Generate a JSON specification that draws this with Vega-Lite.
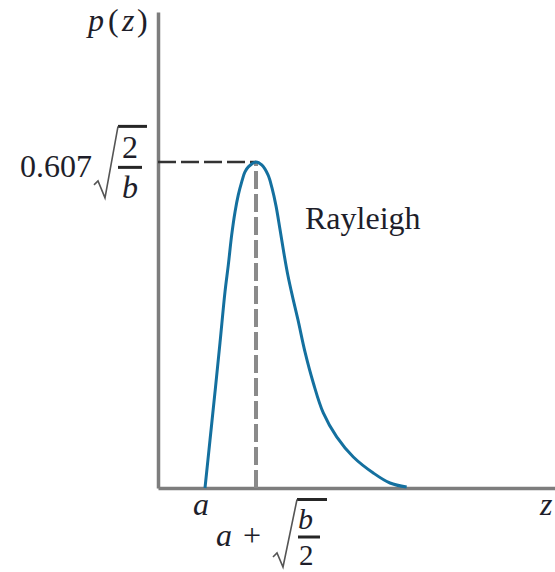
{
  "$schema": "https://vega.github.io/schema/vega-lite/v6.json",
  "width": 397,
  "height": 476,
  "autosize": "none",
  "padding": {"left": 158, "top": 12, "right": 0, "bottom": 84},
  "background": "white",
  "config": {
    "view": {"stroke": null},
    "axis": {
      "domainColor": "#7d7d7d",
      "domainWidth": 3.5,
      "ticks": false,
      "labels": false,
      "grid": false,
      "title": null
    },
    "text": {"font": "Liberation Serif", "fontSize": 32, "color": "#1e1e2a", "align": "left", "baseline": "alphabetic"}
  },
  "datasets": {
    "rayleigh": [
      {"z": 0.947, "p": 0.0},
      {"z": 1.048, "p": 0.0894},
      {"z": 1.149, "p": 0.1788},
      {"z": 1.249, "p": 0.27},
      {"z": 1.35, "p": 0.365},
      {"z": 1.417, "p": 0.4152},
      {"z": 1.485, "p": 0.4711},
      {"z": 1.552, "p": 0.5139},
      {"z": 1.618, "p": 0.5456},
      {"z": 1.687, "p": 0.5698},
      {"z": 1.753, "p": 0.5884},
      {"z": 1.82, "p": 0.5977},
      {"z": 1.975, "p": 0.607},
      {"z": 2.09, "p": 0.6014},
      {"z": 2.217, "p": 0.5828},
      {"z": 2.297, "p": 0.5586},
      {"z": 2.378, "p": 0.5251},
      {"z": 2.458, "p": 0.4815},
      {"z": 2.539, "p": 0.436},
      {"z": 2.62, "p": 0.3945},
      {"z": 2.72, "p": 0.3525},
      {"z": 2.821, "p": 0.3128},
      {"z": 2.962, "p": 0.2533},
      {"z": 3.13, "p": 0.1955},
      {"z": 3.331, "p": 0.1397},
      {"z": 3.601, "p": 0.095},
      {"z": 3.936, "p": 0.0577},
      {"z": 4.339, "p": 0.0279},
      {"z": 4.675, "p": 0.0093},
      {"z": 5.011, "p": 0.0019}
    ],
    "peak": [{"z": 1.975, "p": 0.607, "z0": 0, "p0": 0}],
    "italicText": [
      {"z": -1.411, "p": 0.851, "text": "p"},
      {"z": -0.725, "p": 0.851, "text": "z"},
      {"z": -0.725, "p": 0.54, "text": "b"},
      {"z": 0.705, "p": -0.0503, "text": "a"},
      {"z": 1.169, "p": -0.108, "text": "a"},
      {"z": 7.7, "p": -0.0503, "text": "z"}
    ],
    "fractionItalic": [
      {"z": 2.821, "p": -0.0763, "text": "b"}
    ],
    "fractionRoman": [
      {"z": 2.841, "p": -0.1434, "text": "2"}
    ],
    "romanText": [
      {"z": -1.008, "p": 0.851, "text": "("},
      {"z": -0.423, "p": 0.851, "text": ")"},
      {"z": -2.781, "p": 0.579, "text": "0.607"},
      {"z": -0.725, "p": 0.6145, "text": "2"},
      {"z": 1.713, "p": -0.108, "text": "+"},
      {"z": 2.962, "p": 0.4823, "text": "Rayleigh"}
    ],
    "bars": [
      {"z": -0.806, "z2": -0.322, "p": 0.5968},
      {"z": -0.806, "z2": -0.222, "p": 0.6731},
      {"z": 2.821, "z2": 3.264, "p": -0.0912},
      {"z": 2.801, "z2": 3.406, "p": -0.0214}
    ],
    "radicals": [
      {"sign": "left", "step": 1, "z": -1.29, "p": 0.5642},
      {"sign": "left", "step": 2, "z": -1.209, "p": 0.5716},
      {"sign": "left", "step": 3, "z": -1.068, "p": 0.54},
      {"sign": "left", "step": 4, "z": -0.806, "p": 0.6731},
      {"sign": "bottom", "step": 1, "z": 2.317, "p": -0.1285},
      {"sign": "bottom", "step": 2, "z": 2.398, "p": -0.121},
      {"sign": "bottom", "step": 3, "z": 2.519, "p": -0.1471},
      {"sign": "bottom", "step": 4, "z": 2.801, "p": -0.0214}
    ]
  },
  "encoding": {
    "x": {"field": "z", "type": "quantitative", "scale": {"domain": [0, 8], "nice": false, "zero": false},
          "axis": {"orient": "bottom"}},
    "y": {"field": "p", "type": "quantitative", "scale": {"domain": [0, 0.886], "nice": false, "zero": false},
          "axis": {"orient": "left"}}
  },
  "layer": [
    {
      "data": {"name": "peak"},
      "mark": {"type": "rule", "color": "#8a8a8a", "strokeWidth": 4, "strokeDash": [18, 5]},
      "encoding": {
        "y": {"field": "p0", "type": "quantitative"},
        "y2": {"field": "p"}
      }
    },
    {
      "data": {"name": "peak"},
      "mark": {"type": "rule", "color": "#333333", "strokeWidth": 2.5, "strokeDash": [18, 5]},
      "encoding": {
        "x": {"field": "z0", "type": "quantitative"},
        "x2": {"field": "z"}
      }
    },
    {
      "data": {"name": "rayleigh"},
      "mark": {"type": "line", "color": "#14709f", "strokeWidth": 3, "interpolate": "catmull-rom"},
      "encoding": {}
    },
    {
      "data": {"name": "bars"},
      "mark": {"type": "rule", "color": "#262626", "strokeWidth": 3},
      "encoding": {
        "x2": {"field": "z2"}
      }
    },
    {
      "data": {"name": "radicals"},
      "mark": {"type": "line", "color": "#555555", "strokeWidth": 1.6},
      "encoding": {
        "detail": {"field": "sign"},
        "order": {"field": "step"}
      }
    },
    {
      "data": {"name": "italicText"},
      "mark": {"type": "text", "fontStyle": "italic"},
      "encoding": {
        "text": {"field": "text"}
      }
    },
    {
      "data": {"name": "romanText"},
      "mark": {"type": "text"},
      "encoding": {
        "text": {"field": "text"}
      }
    },
    {
      "data": {"name": "fractionItalic"},
      "mark": {"type": "text", "fontStyle": "italic", "fontSize": 30},
      "encoding": {
        "text": {"field": "text"}
      }
    },
    {
      "data": {"name": "fractionRoman"},
      "mark": {"type": "text", "fontSize": 29},
      "encoding": {
        "text": {"field": "text"}
      }
    }
  ]
}
